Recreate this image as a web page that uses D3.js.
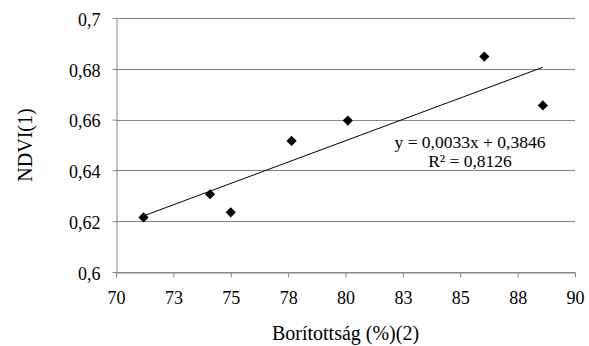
<!DOCTYPE html>
<html>
<head>
<meta charset="utf-8">
<script src="https://cdn.jsdelivr.net/npm/d3@7"></script>
<style>
  body { margin: 0; background: #fff; }
  text { font-family: "Liberation Serif", "Times New Roman", serif; fill: #000; }
</style>
</head>
<body>
<div id="chart"></div>
<script>
// data
const coverage = [71.2, 74.1, 75.0, 77.65, 80.1, 86.05, 88.6];
const ndvi = [0.6215, 0.6306, 0.6235, 0.6516, 0.6596, 0.6848, 0.6656];
const xTicks = [70, 72.5, 75, 77.5, 80, 82.5, 85, 87.5, 90];
const yTicks = [0.6, 0.62, 0.64, 0.66, 0.68, 0.7];
const equationLines = ['y = 0,0033x + 0,3846', 'R² = 0,8126'];
const xLabel = 'Borítottság (%)(2)';
const yLabel = 'NDVI(1)';

const width = 589;
const height = 346;
const plotLeft = 116;
const plotRight = 575;
const plotTop = 18;
const plotBottom = 272;

const commaFmt = (v) => String(+v.toFixed(2)).replace('.', ',');

const xScale = d3.scaleLinear().domain([70, 90]).range([plotLeft, plotRight]);
const yScale = d3.scaleLinear().domain([0.6, 0.7]).range([plotBottom, plotTop]);

const svg = d3.select('#chart')
  .append('svg')
  .attr('width', width)
  .attr('height', height);

// horizontal gridlines
svg.append('g')
  .selectAll('line')
  .data(yTicks)
  .enter()
  .append('line')
  .attr('x1', plotLeft)
  .attr('x2', plotRight)
  .attr('y1', (d) => Math.round(yScale(d)) + 0.5)
  .attr('y2', (d) => Math.round(yScale(d)) + 0.5)
  .attr('stroke', '#868686')
  .attr('stroke-width', 1);

const xAxis = (g) => {
  g.attr('transform', `translate(0, ${plotBottom + 0.5})`)
    .call(d3.axisBottom(xScale).tickValues(xTicks).tickSize(5).tickSizeOuter(0)
      .tickFormat((d) => Math.round(d)));
  g.select('.domain').attr('stroke', '#868686');
  g.selectAll('.tick line').attr('stroke', '#868686');
  g.selectAll('.tick text')
    .attr('font-size', 18)
    .attr('dy', 0)
    .attr('y', 31);
};

const yAxis = (g) => {
  g.attr('transform', `translate(${plotLeft + 0.5}, 0)`)
    .call(d3.axisLeft(yScale).tickValues(yTicks).tickSize(4).tickSizeOuter(0)
      .tickFormat(commaFmt));
  g.select('.domain').attr('stroke', '#868686');
  g.selectAll('.tick line').attr('stroke', '#868686');
  g.selectAll('.tick text')
    .attr('font-size', 18)
    .attr('x', -16)
    .attr('dy', '0.4em');
};

svg.append('g').call(xAxis);
svg.append('g').call(yAxis);

// least squares trend line from the points
const mx = d3.mean(coverage);
const my = d3.mean(ndvi);
let sxy = 0;
let sxx = 0;
coverage.forEach((x, i) => {
  sxy += (x - mx) * (ndvi[i] - my);
  sxx += (x - mx) * (x - mx);
});
const slope = sxy / sxx;
const intercept = my - slope * mx;
const xExt = d3.extent(coverage);

svg.append('path')
  .datum(xExt.map((x) => [x, intercept + slope * x]))
  .attr('fill', 'none')
  .attr('stroke', '#000')
  .attr('stroke-width', 1)
  .attr('d', d3.line().x((d) => xScale(d[0])).y((d) => yScale(d[1])));

// diamonds
svg.append('g')
  .selectAll('path')
  .data(coverage.map((x, i) => [x, ndvi[i]]))
  .enter()
  .append('path')
  .attr('d', d3.symbol(d3.symbolSquare, 52))
  .attr('transform', (d) => `translate(${xScale(d[0])},${yScale(d[1])}) rotate(45)`)
  .attr('fill', '#000');

// equation
svg.append('g')
  .selectAll('text')
  .data(equationLines)
  .enter()
  .append('text')
  .attr('x', 470)
  .attr('y', (d, i) => 148 + i * 19)
  .attr('text-anchor', 'middle')
  .attr('font-size', 17.5)
  .text((d) => d);

svg.append('text')
  .attr('text-anchor', 'middle')
  .attr('x', (plotLeft + plotRight) / 2)
  .attr('y', 340)
  .attr('font-size', 20)
  .text(xLabel);

svg.append('text')
  .attr('text-anchor', 'middle')
  .attr('transform', `translate(32, ${(plotTop + plotBottom) / 2}) rotate(-90)`)
  .attr('font-size', 20)
  .text(yLabel);
</script>
</body>
</html>
